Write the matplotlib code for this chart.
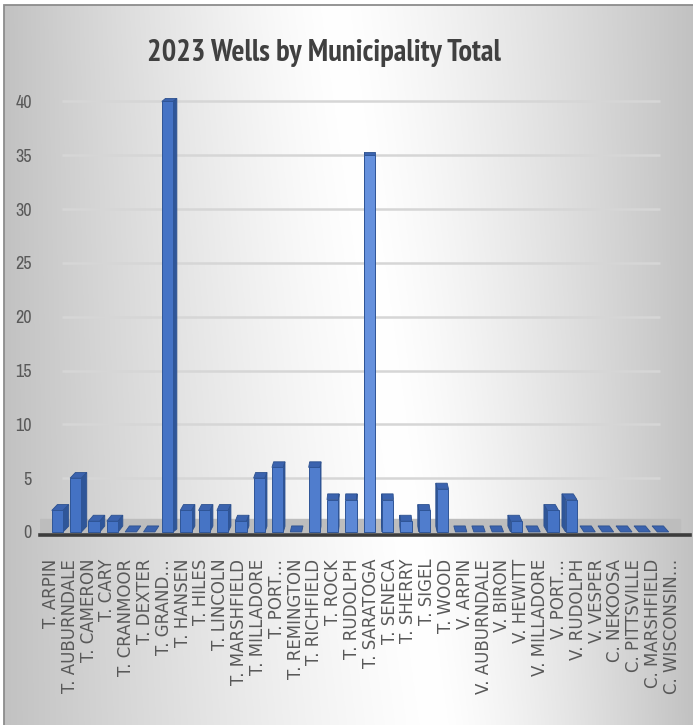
import numpy as np
import matplotlib
matplotlib.use("Agg")
import matplotlib.pyplot as plt
from matplotlib import font_manager as fm
from matplotlib.patches import Polygon, Rectangle
from matplotlib.colors import to_rgb

municipalities = [
    "T. ARPIN", "T. AUBURNDALE", "T. CAMERON", "T. CARY", "T. CRANMOOR",
    "T. DEXTER", "T. GRAND…", "T. HANSEN", "T. HILES", "T. LINCOLN",
    "T. MARSHFIELD", "T. MILLADORE", "T. PORT…", "T. REMINGTON", "T. RICHFIELD",
    "T. ROCK", "T. RUDOLPH", "T. SARATOGA", "T. SENECA", "T. SHERRY",
    "T. SIGEL", "T. WOOD", "V. ARPIN", "V. AUBURNDALE", "V. BIRON",
    "V. HEWITT", "V. MILLADORE", "V. PORT…", "V. RUDOLPH", "V. VESPER",
    "C. NEKOOSA", "C. PITTSVILLE", "C. MARSHFIELD", "C. WISCONSIN…",
]
wells = [2, 5, 1, 1, 0, 0, 40, 2, 2, 2, 1, 5, 6, 0, 6, 3, 3, 35, 3, 1, 2, 4,
         0, 0, 0, 1, 0, 2, 3, 0, 0, 0, 0, 0]
y_ticks = [0, 5, 10, 15, 20, 25, 30, 35, 40]
title = "2023 Wells by Municipality Total"


def narrow_font(bold):
    # look for a narrow / condensed face, fall back to plain DejaVu
    for key in ("narrow", "condensed"):
        for f in fm.fontManager.ttflist:
            base = f.fname.lower().split("/")[-1]
            if key not in (f.name.lower() + base):
                continue
            if "italic" in base or "oblique" in base:
                continue
            if ("bold" in base) != bold:
                continue
            return fm.FontProperties(fname=f.fname)
    return fm.FontProperties(family="DejaVu Sans", weight="bold" if bold else "normal")


W_PX, H_PX = 693, 725
fig = plt.figure(figsize=(W_PX / 100, H_PX / 100), dpi=100, facecolor="white")

# grey/white gradient background with a thin frame
bg = fig.add_axes([4 / W_PX, 0, 1 - 4 / W_PX, 1 - 5 / H_PX], zorder=-10)
yy, xx = np.mgrid[0:1:300j, 0:1:300j]
c = 0.48 + 0.15 * yy
d = np.where(xx < c, (c - xx) / c, (xx - c) / (1 - c))
shade = 1 - 0.24 * d ** 1.3
bg.imshow(np.dstack([shade] * 3), aspect="auto", extent=[0, 1, 1, 0])
bg.axis("off")
fig.patches.append(Rectangle((4 / W_PX, -0.05), 1.1, 1 - 5 / H_PX + 0.05,
                             transform=fig.transFigure, fill=False,
                             edgecolor="#8c8c8c", lw=1.3))

ax = fig.add_axes([40 / W_PX, 0.2618, 650 / W_PX, 0.6072])
ax.patch.set_alpha(0)

x = np.arange(len(wells))
w = 0.62
vp = 17  # category where the perspective is straight on
base = np.array(to_rgb("#4472c4"))
light = np.array(to_rgb("#78a2ea"))

for xi, v in zip(x, wells):
    t = 0.65 * np.exp(-abs(xi - vp) / 3.0)
    front = base * (1 - t) + light * t
    dx = 0.018 * (vp - xi)
    dy = 0.56 - 0.007 * v
    l, r = xi - w / 2, xi + w / 2
    top = [(l, v), (r, v), (r + dx, v + dy), (l + dx, v + dy)]
    ax.add_patch(Polygon(top, closed=True, facecolor="#3b63ae",
                         edgecolor="#2d518f", lw=0.6, zorder=3, clip_on=False))
    if v > 0:
        e = r if dx > 0 else l
        side = [(e, 0), (e + dx, dy), (e + dx, v + dy), (e, v)]
        ax.add_patch(Polygon(side, closed=True, facecolor="#2f5699",
                             edgecolor="#2d518f", lw=0.6, zorder=3, clip_on=False))
        ax.bar(xi, v, width=w, color=front, edgecolor="#2f5597",
               linewidth=0.7, zorder=4)

# back wall gridlines and floor
ax.hlines(y_ticks[1:], 0.034, 0.954, transform=ax.get_yaxis_transform(),
          colors="#d6d6d6", lw=1.8, zorder=0.5)
ax.axhspan(0, 1.25, xmin=0.0, xmax=0.985, color="#bdbdbd", zorder=1)

ax.set_xlim(-0.95, 34.47)
ax.set_ylim(-0.3, 40.6)

tick_font = narrow_font(False)
tick_font.set_size(13)
ax.set_yticks(y_ticks)
ax.set_yticklabels([str(t) for t in y_ticks], fontproperties=tick_font,
                   color="#595959")
ax.tick_params(axis="y", length=0, pad=6)

ax.set_xticks(x * 1.025 - 0.35)
ax.set_xticklabels(municipalities, rotation=90, fontsize=12,
                   color="#595959", family="DejaVu Sans")
ax.tick_params(axis="x", length=0, pad=17)

for s in ("top", "right", "left"):
    ax.spines[s].set_visible(False)
ax.spines["bottom"].set_color("#3c3c3c")
ax.spines["bottom"].set_linewidth(2.6)

title_font = narrow_font(True)
title_font.set_size(22)
fig.text(324 / W_PX, 1 - 61 / H_PX, title, ha="center", va="baseline",
         fontproperties=title_font, color="#404040")

fig.savefig("out.png", dpi=100)
